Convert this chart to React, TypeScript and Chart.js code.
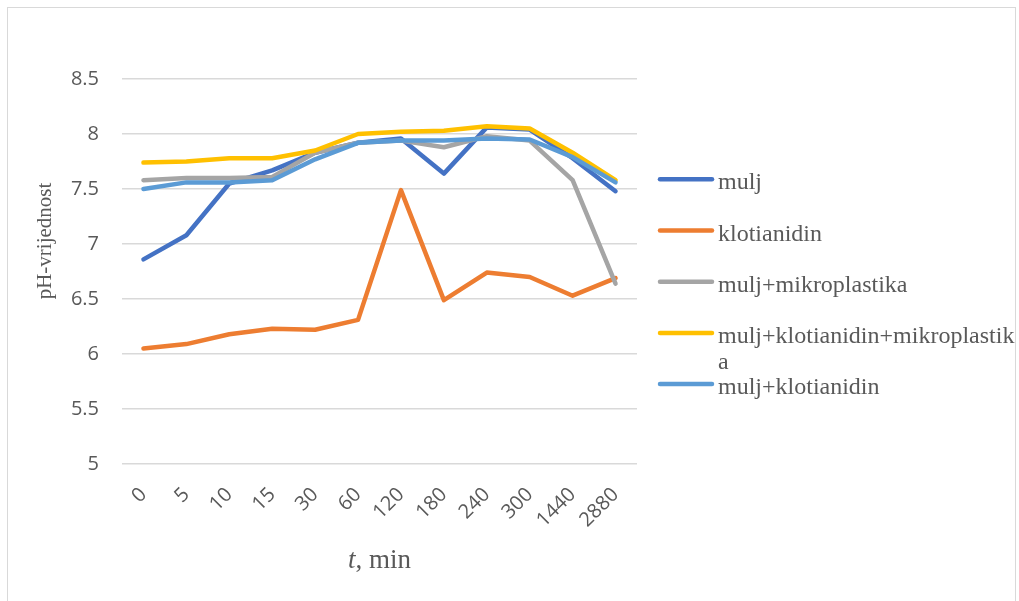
import React, { useEffect, useRef } from "react";
import { Chart, registerables } from "chart.js";

Chart.register(...registerables);

const categories = ["0", "5", "10", "15", "30", "60", "120", "180", "240", "300", "1440", "2880"];
const seriesNames = [
  "mulj",
  "klotianidin",
  "mulj+mikroplastika",
  "mulj+klotianidin+mikroplastika",
  "mulj+klotianidin",
];
const mulj = [6.86, 7.08, 7.55, 7.67, 7.83, 7.92, 7.96, 7.64, 8.06, 8.04, 7.78, 7.48];
const klotianidin = [6.05, 6.09, 6.18, 6.23, 6.22, 6.31, 7.49, 6.49, 6.74, 6.7, 6.53, 6.69];
const muljMikroplastika = [7.58, 7.6, 7.6, 7.61, 7.83, 7.92, 7.94, 7.88, 7.98, 7.94, 7.58, 6.64];
const muljKlotMikro = [7.74, 7.75, 7.78, 7.78, 7.85, 8.0, 8.02, 8.03, 8.07, 8.05, 7.83, 7.58];
const muljKlotianidin = [7.5, 7.56, 7.56, 7.58, 7.77, 7.92, 7.94, 7.94, 7.96, 7.95, 7.79, 7.56];
const seriesColors = ["#4472C4", "#ED7D31", "#A5A5A5", "#FFC000", "#5B9BD5"];
const yMin = 5;
const yMax = 8.5;
const yStep = 0.5;
const yTitle = "pH-vrijednost";
const xTitleItalic = "t";
const xTitleRest = ", min";

const TEXT = "#595959";
const SERIF = "'Liberation Serif', 'Times New Roman', serif";
const SANS = "'Open Sans', sans-serif";

const overlayPlugin = {
  id: "overlay",
  afterDraw(chart: any) {
    const ctx = chart.ctx;
    const area = chart.chartArea;
    ctx.save();
    ctx.fillStyle = TEXT;
    ctx.font = `21px ${SERIF}`;
    ctx.textAlign = "center";
    ctx.textBaseline = "middle";
    ctx.translate(45, 241);
    ctx.rotate(-Math.PI / 2);
    ctx.fillText(yTitle, 0, 0);
    ctx.restore();

    ctx.save();
    ctx.fillStyle = TEXT;
    ctx.textBaseline = "alphabetic";
    ctx.textAlign = "left";
    ctx.font = `italic 27px ${SERIF}`;
    const w1 = ctx.measureText(xTitleItalic).width;
    ctx.font = `27px ${SERIF}`;
    const w2 = ctx.measureText(xTitleRest).width;
    const cx = (area.left + area.right) / 2;
    const x0 = cx - (w1 + w2) / 2;
    ctx.font = `italic 27px ${SERIF}`;
    ctx.fillText(xTitleItalic, x0, 568);
    ctx.font = `27px ${SERIF}`;
    ctx.fillText(xTitleRest, x0 + w1, 568);
    ctx.restore();

    ctx.save();
    ctx.font = `24px ${SERIF}`;
    ctx.textAlign = "left";
    ctx.textBaseline = "alphabetic";
    const maxW = 299;
    chart.data.datasets.forEach((ds: any, i: number) => {
      const ly = 179.3 + i * 51.2;
      ctx.strokeStyle = ds.borderColor;
      ctx.lineWidth = 4.5;
      ctx.lineCap = "round";
      ctx.beginPath();
      ctx.moveTo(660, ly);
      ctx.lineTo(712, ly);
      ctx.stroke();
      ctx.fillStyle = TEXT;
      const lines: string[] = [];
      let cur = "";
      for (const ch of String(ds.label)) {
        if (ctx.measureText(cur + ch).width > maxW && cur.length) {
          lines.push(cur);
          cur = ch;
        } else cur += ch;
      }
      lines.push(cur);
      lines.forEach((t, k) => ctx.fillText(t, 718, ly + 10 + k * 25.6));
    });
    ctx.restore();
  },
};

export default function App() {
  const ref = useRef<HTMLCanvasElement | null>(null);
  useEffect(() => {
    const seriesData = [mulj, klotianidin, muljMikroplastika, muljKlotMikro, muljKlotianidin];
    const chart = new Chart(ref.current as HTMLCanvasElement, {
      type: "line",
      data: {
        labels: categories,
        datasets: seriesNames.map((name, i) => ({
          label: name,
          data: seriesData[i],
          borderColor: seriesColors[i],
          backgroundColor: seriesColors[i],
          borderWidth: 4.5,
          pointRadius: 0,
          pointHoverRadius: 0,
          tension: 0,
          fill: false,
          borderCapStyle: "round",
          borderJoinStyle: "round",
          order: seriesNames.length - i,
        })),
      },
      options: {
        animation: false,
        responsive: false,
        maintainAspectRatio: false,
        layout: { padding: { left: 0, top: 79, right: 382, bottom: 0 } },
        plugins: {
          legend: { display: false },
          tooltip: { enabled: false },
          title: { display: false },
        },
        scales: {
          x: {
            type: "category",
            offset: true,
            grid: { display: false, drawTicks: false },
            border: { display: false },
            ticks: {
              autoSkip: false,
              maxRotation: 45,
              minRotation: 45,
              padding: 19,
              color: TEXT,
              font: { family: SANS, size: 20 },
            },
            afterFit(scale: any) {
              scale.height = 137;
            },
          },
          y: {
            min: yMin,
            max: yMax,
            grid: { color: "#D9D9D9", lineWidth: 1.5, drawTicks: false },
            border: { display: false },
            ticks: {
              stepSize: yStep,
              padding: 23,
              color: TEXT,
              font: { family: SANS, size: 20 },
              callback: (v: any) => String(Number(v)),
            },
            afterFit(scale: any) {
              scale.width = 122;
            },
          },
        },
      },
      plugins: [overlayPlugin],
    } as any);
    return () => chart.destroy();
  }, []);
  return (
    <div style={{ position: "absolute", left: 0, top: 0, width: 1019, height: 601, background: "#fff" }}>
      <div
        style={{
          position: "absolute",
          left: 7,
          top: 7,
          width: 1009,
          height: 620,
          border: "1px solid #D9D9D9",
          boxSizing: "border-box",
        }}
      />
      <canvas ref={ref} width={1019} height={601} style={{ position: "absolute", left: 0, top: 0, display: "block" }} />
    </div>
  );
}
